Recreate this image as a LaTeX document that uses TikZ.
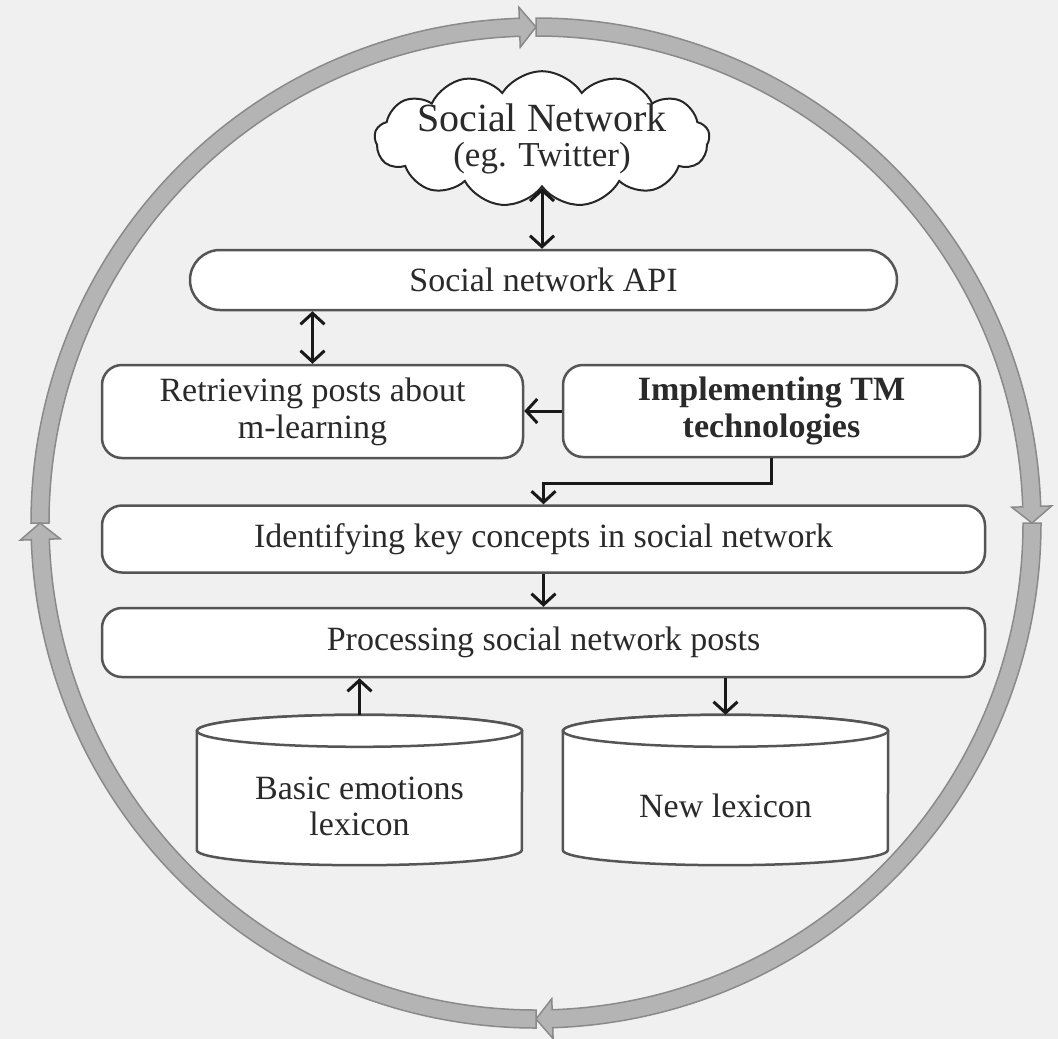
\documentclass[tikz,border=0pt]{standalone}
\usepackage{fontspec}
\setmainfont{Liberation Serif}
\usetikzlibrary{shapes.symbols,arrows.meta,calc}
\definecolor{bgc}{HTML}{F0F0F0}
\definecolor{bandfill}{HTML}{B4B4B4}
\definecolor{bandedge}{HTML}{8A8A8A}
\definecolor{boxedge}{HTML}{555555}
\definecolor{txt}{HTML}{2A2A2A}
\begin{document}
\begin{tikzpicture}[x=1pt,y=1pt,
  box/.style={draw=boxedge, line width=2.5pt, fill=white, rounded corners=20pt,
    text=txt, align=center, font=\fontsize{34}{37}\selectfont, inner sep=0pt},
  cylst/.style={draw=boxedge, line width=2.5pt, fill=white},
  cyltxt/.style={text=txt, align=center, font=\fontsize{34}{36}\selectfont, inner sep=0pt},
  conn/.style={line width=3pt, draw=black!90, -{Straight Barb[length=11pt,width=24pt]}},
  dconn/.style={line width=3pt, draw=black!90, {Straight Barb[length=11pt,width=24pt]}-{Straight Barb[length=11pt,width=24pt]}},
  band/.style={fill=bandfill, draw=bandedge, line width=1.5pt, line join=miter}
]
\useasboundingbox (0,0) rectangle (1058,-1039);
\fill[bgc] (0,0) rectangle (1058,-1039);

% circular clockwise band
\begin{scope}[shift={(536,-523)}]
\foreach \s in {180,90,0,-90}{
  \pgfmathsetmacro\e{\s-90}
  \pgfmathsetmacro\b{\s-90+1.9}
  \filldraw[band] (\s:505) arc[start angle=\s, end angle=\b, radius=505]
    -- (\b:516) -- (\e:496) -- (\b:476) -- (\b:487)
    arc[start angle=\b, end angle=\s, radius=487] -- cycle;
}
\end{scope}

% cloud
\node[cloud, cloud puffs=13, cloud puff arc=115, cloud ignores aspect,
  draw=black!85, line width=2pt, fill=white, inner sep=0pt,
  text width=235pt, text height=67pt, text depth=0pt] (cloud) at (542,-139) {};
\node[inner sep=0pt, text=txt, align=center, font=\fontsize{35}{35}\selectfont]
  (cloudtxt) at (cloud.center) {{\fontsize{40}{35}\selectfont Social Network}\\(eg. Twitter)};

\node[box, rounded corners=30pt, minimum width=707, minimum height=60] (api) at (543.5,-280) {Social network API};
\node[box, minimum width=421, minimum height=93] (ret) at (312.5,-411.5) {Retrieving posts about\\m-learning};
\node[box, minimum width=417, minimum height=92, font=\fontsize{34}{37}\selectfont\bfseries] (imp) at (771.5,-411) {Implementing TM\\technologies};
\node[box, minimum width=883, minimum height=67] (ident) at (543.5,-539) {Identifying key concepts in social network};
\node[box, minimum width=883, minimum height=69] (proc) at (543.5,-642.5) {Processing social network posts};

% cylinders
\node[minimum width=325, minimum height=150, inner sep=0pt] (basic) at (359.5,-790) {};
\node[minimum width=325, minimum height=150, inner sep=0pt] (newlex) at (725.5,-790) {};
\foreach \n in {basic,newlex}{
  \filldraw[cylst] ($(\n.north west)+(0,-16)$) -- ($(\n.south west)+(0,15)$)
    arc[start angle=180, end angle=360, x radius=162.5, y radius=15]
    -- ($(\n.north east)+(0,-16)$)
    arc[start angle=0, end angle=180, x radius=162.5, y radius=16] -- cycle;
  \draw[cylst] ($(\n.north)+(0,-16)$) ellipse[x radius=162.5, y radius=16];
}
\node[cyltxt] (basictxt) at (359.5,-806) {Basic emotions\\lexicon};
\node[cyltxt] (newtxt) at (725.5,-806) {New lexicon};

% connectors
\draw[dconn] (cloud.south) -- (cloud.south |- api.north);
\draw[dconn] (ret.north |- api.south) -- (ret.north);
\draw[conn] (imp.west) -- (imp.west -| ret.east);
\draw[conn] (imp.south) -- ++(0,-25) -| (ident.north);
\draw[conn] (ident.south) -- (proc.north);
\draw[conn] (basic.north) -- (basic.north |- proc.south);
\draw[conn] (proc.south -| newlex.north) -- (newlex.north);
\end{tikzpicture}
\end{document}
